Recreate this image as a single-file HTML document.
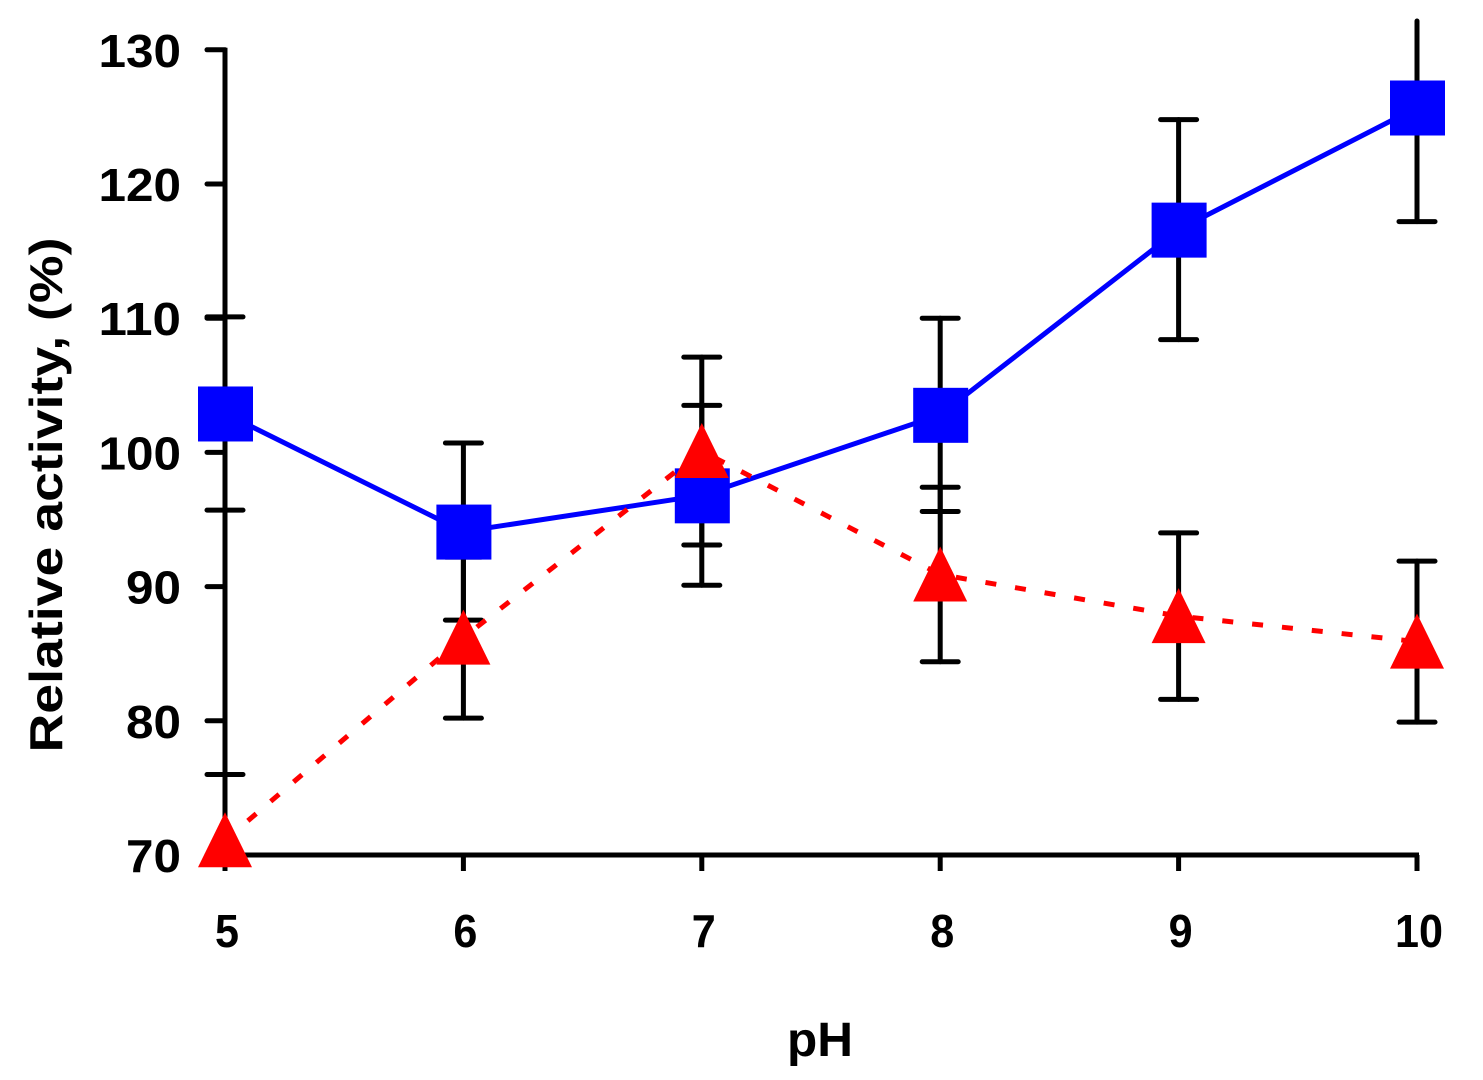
<!DOCTYPE html>
<html><head><meta charset="utf-8"><style>
html,body{margin:0;padding:0;background:#fff;}
svg{display:block;font-family:"Liberation Sans",Arial,sans-serif;font-weight:bold;}
</style></head><body>
<svg id="chart" width="1483" height="1080" xmlns="http://www.w3.org/2000/svg">
<g id="axes"></g>
<g id="errs"></g>
<g id="series"></g>
<text x="787" y="1056" font-size="48" textLength="66" lengthAdjust="spacingAndGlyphs">pH</text>
<text transform="translate(62,495) rotate(-90)" font-size="46" text-anchor="middle" textLength="515" lengthAdjust="spacingAndGlyphs">Relative activity, (%)</text>
</svg>
<script>
const categories = [5, 6, 7, 8, 9, 10];
const xTicks = ["5","6","7","8","9","10"];
const yTicks = [70, 80, 90, 100, 110, 120, 130];
const blueValues = [102.9, 94.1, 96.8, 102.8, 116.6, 125.7];
const blueErrors = [7.2, 6.6, 6.7, 7.2, 8.2, 8.5];
const redValues = [71.1, 86.2, 100.1, 90.9, 87.8, 85.9];
const redErrors = [4.9, 6.0, 7.0, 6.5, 6.2, 6.0];

const NS = "http://www.w3.org/2000/svg";
function X(p){ return 225 + (p - 5) * 238.4; }
function Y(v){ return 855 - (v - 70) * 13.42; }
function mk(tag, attrs, parent){
  const e = document.createElementNS(NS, tag);
  for (const k in attrs) e.setAttribute(k, attrs[k]);
  parent.appendChild(e);
  return e;
}
const axes = document.getElementById('axes');
const errs = document.getElementById('errs');
const series = document.getElementById('series');

let el = mk('line', {x1:225, y1:Y(130)-2, x2:225, y2:870, stroke:'#000','stroke-width':5}, axes);


el = mk('line', {x1:223, y1:855, x2:1419, y2:855, stroke:'#000','stroke-width':5}, axes);



yTicks.forEach(v => {
  const t = mk('line', {x1:207, y1:Y(v), x2:225, y2:Y(v), stroke:'#000','stroke-width':5,'stroke-linecap':'round'}, axes);
  
  
  const s = String(v);
  const l = mk('text', {x:181, y:Y(v)+17, 'font-size':46, 'text-anchor':'end', textLength: s.length*27.5, lengthAdjust:'spacingAndGlyphs'}, axes);
  l.textContent = s;
  
  
});
categories.forEach((p, i) => {
  const t = mk('line', {x1:X(p), y1:855, x2:X(p), y2:871, stroke:'#000','stroke-width':5}, axes);
  
  
  const s = xTicks[i];
  const w = s.length*24;
  const l = mk('text', {x:X(p)-w/2+2, y:947, 'font-size':46, textLength:w, lengthAdjust:'spacingAndGlyphs'}, axes);
  l.textContent = s;
  
  
});

function errBar(p, v, e, name){
  const top = Y(v + e), bot = Y(Math.max(v - e, 70));
  const yTop = Math.max(top, 21);
  const g = mk('g', {stroke:'#000','stroke-width':5,'stroke-linecap':'round'}, errs);
  
  
  mk('line', {x1:X(p), y1:yTop, x2:X(p), y2:bot}, g);
  if (top >= 21) mk('line', {x1:X(p)-18, y1:top, x2:X(p)+18, y2:top}, g);
  if (v - e >= 70) mk('line', {x1:X(p)-18, y1:bot, x2:X(p)+18, y2:bot}, g);
}
categories.forEach((p, i) => {
  errBar(p, blueValues[i], blueErrors[i], 'blue-error-bar');
  errBar(p, redValues[i], redErrors[i], 'red-error-bar');
});

const bluePts = categories.map((p, i) => X(p) + ',' + Y(blueValues[i])).join(' ');
el = mk('polyline', {points:bluePts, fill:'none', stroke:'#0000ff', 'stroke-width':5}, series);


categories.forEach((p, i) => {
  const s = mk('rect', {x:X(p)-27, y:Y(blueValues[i])-27, width:55, height:55, fill:'#0000ff'}, series);
  
  
});
const redPts = categories.map((p, i) => X(p) + ',' + Y(redValues[i])).join(' ');
el = mk('polyline', {points:redPts, fill:'none', stroke:'#ff0000', 'stroke-width':5, 'stroke-dasharray':'11 19'}, series);


categories.forEach((p, i) => {
  const cx = X(p), cy = Y(redValues[i]);
  const t = mk('polygon', {points:(cx)+','+(cy-28)+' '+(cx+27)+','+(cy+27)+' '+(cx-27)+','+(cy+27), fill:'#ff0000'}, series);
  
  
});
</script>
</body></html>
